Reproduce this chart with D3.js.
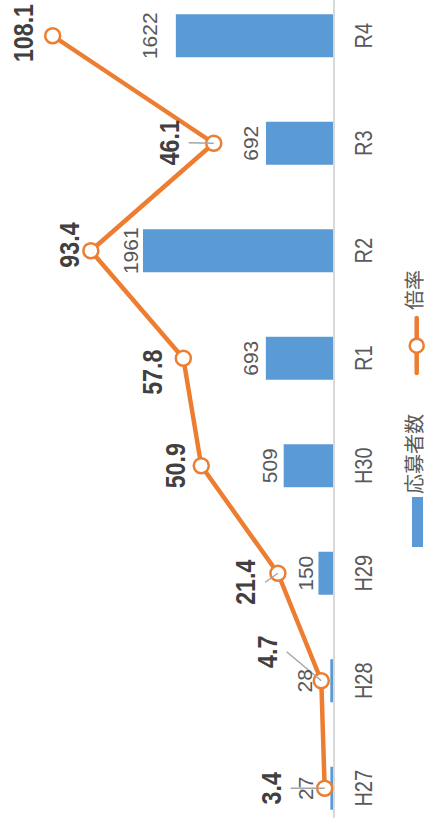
<!DOCTYPE html>
<html>
<head>
<meta charset="utf-8">
<script src="https://cdn.jsdelivr.net/npm/d3@7"></script>
<style>
  html, body { margin: 0; padding: 0; background: #fff; }
  svg { display: block; }
</style>
</head>
<body>
<div id="chart"></div>
<script>
// ---- data ----
const categories = ["H27", "H28", "H29", "H30", "R1", "R2", "R3", "R4"];
const applicants = [27, 28, 150, 509, 693, 1961, 692, 1622];      // 応募者数 (bars)
const ratios = [3.4, 4.7, 21.4, 50.9, 57.8, 93.4, 46.1, 108.1];   // 倍率 (line)
const seriesNames = ["応募者数", "倍率"];

// ---- style (label placement, not data) ----
// ratio label offsets [dx along category, dy from marker, showLeader]
const ratioLabelOffsets = [[0, -44, true], [29, -44.7, true], [-9, -22.7, true], [0, -16.7, false],
                           [-14, -21, false], [5.7, -11.7, false], [0.5, -35, true], [2.7, -19.7, false]];
const barLabelGaps = [17, 18, 5, 7, 8, 5, 8, 19];

const W = 427, H = 818;        // page
const BLUE = "#5b9bd5", ORANGE = "#ed7d31";
const FONT = "'Liberation Sans', Arial, sans-serif";
const JFONT = "'Noto Sans CJK JP', 'Noto Sans', sans-serif";

const svg = d3.select("#chart").append("svg").attr("width", W).attr("height", H);
const g = svg.append("g").attr("transform", `translate(0,${H}) rotate(-90)`);

const x = d3.scaleBand().domain(categories).range([-24, 836]).paddingInner(0.6).paddingOuter(0.3);
const yBar = d3.scaleLinear().domain([0, 2000]).range([333, 333 - 2000 / 10.32]);
const yLine = d3.scaleLinear().domain([0, 120]).range([333.5, 333.5 - 120 * 2.598]);
const cx = c => x(c) + x.bandwidth() / 2;

// bars
g.append("g").selectAll("rect").data(categories).join("rect")
  .attr("x", c => x(c))
  .attr("width", x.bandwidth())
  .attr("y", (c, i) => yBar(applicants[i]))
  .attr("height", (c, i) => yBar(0) - yBar(applicants[i]))
  .attr("fill", BLUE);

// axis
const axis = g.append("g").attr("transform", `translate(0,${yBar(0) + 0.5})`)
  .call(d3.axisBottom(x).tickSize(0).tickPadding(0));
axis.select(".domain").attr("stroke", "#d9d9d9").attr("stroke-width", 2);
axis.selectAll(".tick text")
  .attr("y", 39).attr("dy", 0)
  .attr("transform", "scale(0.87,1)")
  .attr("font-family", FONT).attr("font-size", 23).attr("fill", "#595959");

// line
const line = d3.line().x((d, i) => cx(categories[i])).y(d => yLine(d));
g.append("path").datum(ratios).attr("d", line)
  .attr("fill", "none").attr("stroke", ORANGE).attr("stroke-width", 4.5)
  .attr("stroke-linejoin", "round").attr("stroke-linecap", "round");

// markers
g.append("g").selectAll("circle").data(ratios).join("circle")
  .attr("cx", (d, i) => cx(categories[i]))
  .attr("cy", d => yLine(d))
  .attr("r", 7.5)
  .attr("fill", "#fff").attr("stroke", ORANGE).attr("stroke-width", 2.5);

// leader lines
g.append("g").selectAll("line").data(ratios.map((d, i) => ({ d, i })).filter(o => ratioLabelOffsets[o.i][2]))
  .join("line")
  .attr("x1", o => cx(categories[o.i]))
  .attr("y1", o => yLine(o.d))
  .attr("x2", o => cx(categories[o.i]) + ratioLabelOffsets[o.i][0])
  .attr("y2", o => yLine(o.d) + ratioLabelOffsets[o.i][1] + 10)
  .attr("stroke", "#a6a6a6").attr("stroke-width", 1.5);

// bar value labels
g.append("g").selectAll("text").data(applicants).join("text")
  .attr("x", (d, i) => cx(categories[i]))
  .attr("y", (d, i) => yBar(d) - barLabelGaps[i])
  .attr("text-anchor", "middle")
  .attr("font-family", FONT).attr("font-size", 21).attr("fill", "#595959")
  .text(d => d);

// ratio labels
g.append("g").selectAll("text").data(ratios).join("text")
  .attr("transform", (d, i) =>
    `translate(${cx(categories[i]) + ratioLabelOffsets[i][0]},${yLine(d) + ratioLabelOffsets[i][1]}) scale(0.86,1)`)
  .attr("text-anchor", "middle")
  .attr("font-family", FONT).attr("font-size", 27).attr("font-weight", "bold").attr("fill", "#404040")
  .text(d => d.toFixed(1));

// legend
const lg = g.append("g");
lg.append("rect").attr("x", 271).attr("y", 412).attr("width", 50).attr("height", 11).attr("fill", BLUE);
lg.append("text").attr("x", 324).attr("y", 413).attr("dominant-baseline", "central")
  .attr("font-family", JFONT).attr("font-size", 20).attr("fill", "#595959").text(seriesNames[0]);
lg.append("line").attr("x1", 445).attr("x2", 500).attr("y1", 416.7).attr("y2", 416.7)
  .attr("stroke", ORANGE).attr("stroke-width", 4.5).attr("stroke-linecap", "round");
lg.append("circle").attr("cx", 472.3).attr("cy", 416.7).attr("r", 7)
  .attr("fill", "#fff").attr("stroke", ORANGE).attr("stroke-width", 2.5);
lg.append("text").attr("x", 508).attr("y", 413).attr("dominant-baseline", "central")
  .attr("font-family", JFONT).attr("font-size", 20).attr("fill", "#595959").text(seriesNames[1]);
</script>
</body>
</html>
